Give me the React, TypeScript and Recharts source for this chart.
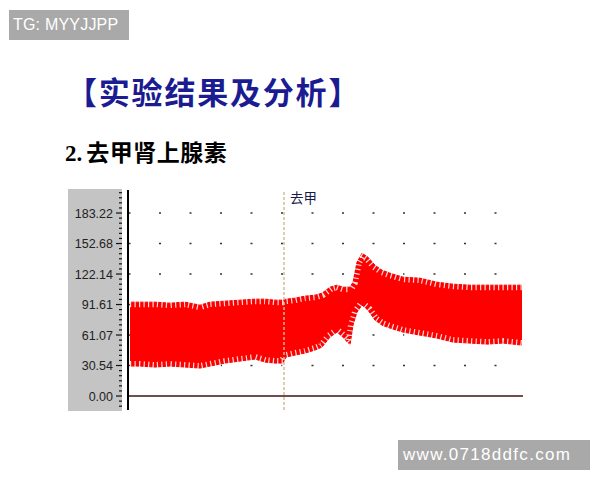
import React from 'react';
import {
  ComposedChart,
  Area,
  Line,
  XAxis,
  YAxis,
  CartesianGrid,
  ReferenceLine,
} from 'recharts';

// Time (s) of each envelope sample
const times = [2, 12, 27, 42, 57, 72, 82, 97, 112, 127, 137, 147, 155, 158, 167, 177, 187, 194, 202, 209, 215, 222, 225, 229, 234, 240, 247, 254, 262, 275, 292, 309, 325, 342, 359, 375, 394];
// Upper (systolic) envelope of the pressure trace
const upper = [94, 94, 94, 93, 94, 91, 94, 95, 96, 97, 97, 96, 96, 97, 98, 100, 101, 103, 109, 111, 109, 109, 114, 134, 143, 139, 131, 126, 123, 119, 118, 114, 112, 111, 111, 111, 111];
// Lower (diastolic) envelope of the pressure trace
const lower = [30, 30, 29, 30, 29, 28, 30, 33, 35, 37, 34, 33, 33, 39, 41, 43, 46, 49, 59, 64, 59, 51, 71, 84, 91, 86, 76, 71, 68, 64, 61, 58, 54, 53, 52, 53, 51];

const majorTicks = [0, 30.54, 61.07, 91.61, 122.14, 152.68, 183.22];
const tickLabels = ['0.00', '30.54', '61.07', '91.61', '122.14', '152.68', '183.22'];
const yDomain = [-14, 206.3];
const xDomain = [0, 395];
const markerTime = 156;
const markerLabel = '去甲';

const data = times.map((t, i) => ({ t, range: [lower[i], upper[i]] }));
const markerData = [
  { t: markerTime, v: yDomain[0] },
  { t: markerTime, v: yDomain[1] },
];

// minor tick marks: 6 subdivisions per major interval across the domain
const minorStep = (majorTicks[1] - majorTicks[0]) / 6;
const allTicks: number[] = [];
for (let k = Math.ceil(yDomain[0] / minorStep); k * minorStep <= yDomain[1]; k++) {
  allTicks.push(Number((k * minorStep).toFixed(3)));
}
const gridTicks = majorTicks.filter((v) => v > 0);

const AxisTick = (props: any) => {
  const { x, y, payload } = props;
  const v = payload.value as number;
  const idx = majorTicks.findIndex((m) => Math.abs(m - v) < 0.05);
  const isMajor = idx >= 0;
  return (
    <g>
      <line x1={x - (isMajor ? 12 : 9)} x2={x - 6} y1={y} y2={y} stroke="#111" strokeWidth={1.2} />
      {isMajor && (
        <text
          x={x - 15}
          y={y}
          dy={4.5}
          textAnchor="end"
          fontSize={12.5}
          fill="#222"
          fontFamily="'Liberation Sans', Arial, sans-serif"
        >
          {tickLabels[idx]}
        </text>
      )}
    </g>
  );
};

// dotted grid row; rows lying on the plot edges are skipped
const GridRow = (p: any) => {
  const top = p.y;
  const bottom = p.y + p.height;
  if (typeof top === 'number' && (Math.abs(p.y1 - top) < 1 || Math.abs(p.y1 - bottom) < 1)) {
    return <g key={p.key} />;
  }
  return (
    <line
      key={p.key}
      x1={p.x1}
      x2={p.x2}
      y1={p.y1}
      y2={p.y2}
      stroke="#333"
      strokeWidth={1.6}
      strokeDasharray="0 0.5 2 28"
      fill="none"
    />
  );
};

const MarkerLabel = (props: any) => {
  const vb = props.viewBox || {};
  return (
    <text
      x={(vb.x ?? 0) + 6}
      y={(vb.y ?? 0) + 13}
      fontSize={13.5}
      fill="#1a1a4a"
      fontFamily="'Noto Sans CJK SC', sans-serif"
    >
      {markerLabel}
    </text>
  );
};

export default function App() {
  return (
    <div style={{ position: 'absolute', left: 0, top: 0, width: 600, height: 480, background: '#fff', overflow: 'hidden' }}>
      <div
        style={{
          position: 'absolute', left: 9, top: 10, width: 120, height: 30, background: '#a9a9a9',
          color: '#fff', fontFamily: "'Liberation Sans', Arial, sans-serif", fontSize: 16, lineHeight: '30px',
          paddingLeft: 4, boxSizing: 'border-box', letterSpacing: 0.2,
        }}
      >
        TG: MYYJJPP
      </div>
      <div
        style={{
          position: 'absolute', left: 66, top: 71, fontFamily: "'Noto Sans CJK SC', sans-serif", fontWeight: 700,
          fontSize: 31, lineHeight: '40px', color: '#1b1b92', whiteSpace: 'nowrap',
          letterSpacing: 1.8,
        }}
      >
        【实验结果及分析】
      </div>
      <div
        style={{
          position: 'absolute', left: 65, top: 136, fontSize: 23, lineHeight: '30px', color: '#000', whiteSpace: 'nowrap',
          fontWeight: 700,
        }}
      >
        <span style={{ fontFamily: "'Liberation Serif', serif", marginRight: 4 }}>2.</span>
        <span style={{ fontFamily: "'Noto Sans CJK SC', sans-serif", letterSpacing: 0.5 }}>去甲肾上腺素</span>
      </div>
      <div style={{ position: 'absolute', left: 68, top: 189, width: 54, height: 222, background: '#c4c4c4' }} />
      <div style={{ position: 'absolute', left: 0, top: 0 }}>
        <ComposedChart width={600} height={480} data={data} margin={{ top: 190, right: 77, bottom: 70, left: 68 }}>
          <XAxis dataKey="t" type="number" domain={xDomain} hide allowDataOverflow />
          <YAxis
            yAxisId="main"
            type="number"
            domain={yDomain}
            allowDataOverflow
            ticks={allTicks}
            interval={0}
            width={60}
            tickSize={0}
            tickMargin={0}
            tickLine={false}
            axisLine={{ stroke: '#000', strokeWidth: 2 }}
            tick={<AxisTick />}
          />
          <YAxis yAxisId="grid" type="number" domain={yDomain} allowDataOverflow ticks={gridTicks} hide width={0} />
          <CartesianGrid yAxisId="grid" vertical={false} horizontal={GridRow} />
          <ReferenceLine
            yAxisId="main"
            x={markerTime}
            stroke="#b89a74"
            strokeWidth={1}
            strokeDasharray="3 2"
            label={<MarkerLabel />}
          />
          <Area
            yAxisId="main"
            dataKey="range"
            type="linear"
            fill="#ff0000"
            fillOpacity={1}
            stroke="#f00000"
            strokeWidth={1}
            isAnimationActive={false}
            dot={false}
            activeDot={false}
          />
          <Area
            yAxisId="main"
            dataKey="range"
            type="linear"
            fill="none"
            stroke="#ffffff"
            strokeOpacity={0.85}
            strokeWidth={10}
            strokeDasharray="1.2 3.3"
            isAnimationActive={false}
            dot={false}
            activeDot={false}
          />
          <Line
            yAxisId="main"
            data={markerData}
            dataKey="v"
            type="linear"
            stroke="#e8c8a8"
            strokeWidth={1}
            strokeDasharray="3 2"
            dot={false}
            activeDot={false}
            isAnimationActive={false}
          />
          <ReferenceLine yAxisId="main" y={0} stroke="#3c1414" strokeWidth={1.6} />
        </ComposedChart>
      </div>
      <div
        style={{
          position: 'absolute', left: 398, top: 440, width: 192, height: 30, background: '#a9a9a9',
          color: '#fff', fontFamily: "'Liberation Sans', Arial, sans-serif", fontSize: 17, lineHeight: '30px',
          paddingLeft: 5, boxSizing: 'border-box', letterSpacing: 1.3, whiteSpace: 'nowrap',
        }}
      >
        www.0718ddfc.com
      </div>
    </div>
  );
}
